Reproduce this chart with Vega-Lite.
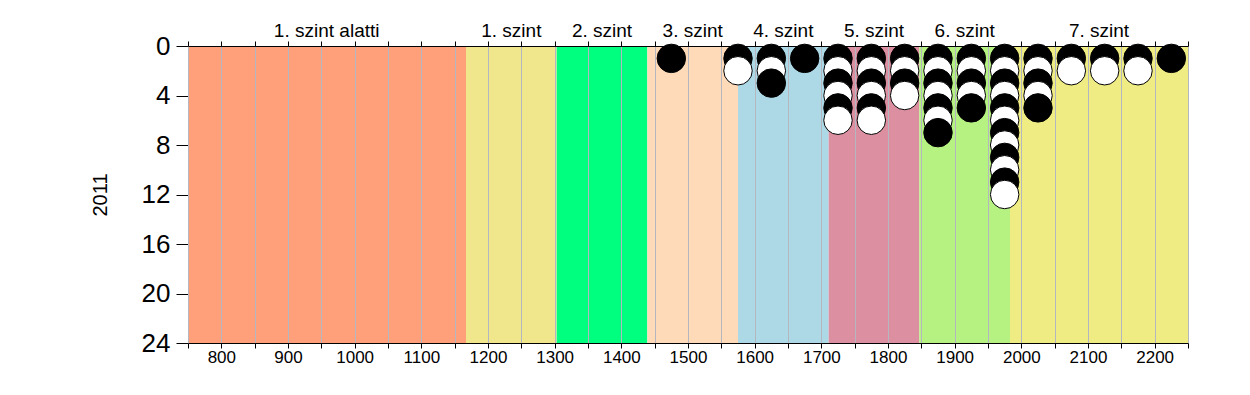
{
  "$schema": "https://vega.github.io/schema/vega-lite/v6.json",
  "width": 1000,
  "height": 297,
  "autosize": "none",
  "padding": {"left": 188, "top": 46, "right": 62, "bottom": 52},
  "background": "white",
  "config": {
    "view": {"stroke": null},
    "font": "Liberation Sans",
    "axis": {"labelFont": "Liberation Sans", "titleFont": "Liberation Sans", "labelColor": "black", "titleColor": "black"}
  },
  "datasets": {
    "bands": [
      {"band": "1. szint alatti", "start": 750, "end": 1167, "mid": 958},
      {"band": "1. szint", "start": 1167, "end": 1303, "mid": 1235},
      {"band": "2. szint", "start": 1303, "end": 1439, "mid": 1371},
      {"band": "3. szint", "start": 1439, "end": 1575, "mid": 1507},
      {"band": "4. szint", "start": 1575, "end": 1711, "mid": 1643},
      {"band": "5. szint", "start": 1711, "end": 1847, "mid": 1779},
      {"band": "6. szint", "start": 1847, "end": 1983, "mid": 1915},
      {"band": "7. szint", "start": 1983, "end": 2250, "mid": 2116.5}
    ],
    "points": [
      {"x": 1475, "n": 1},
      {"x": 1575, "n": 1}, {"x": 1575, "n": 2},
      {"x": 1625, "n": 1}, {"x": 1625, "n": 2}, {"x": 1625, "n": 3},
      {"x": 1675, "n": 1},
      {"x": 1725, "n": 1}, {"x": 1725, "n": 2}, {"x": 1725, "n": 3}, {"x": 1725, "n": 4}, {"x": 1725, "n": 5}, {"x": 1725, "n": 6},
      {"x": 1775, "n": 1}, {"x": 1775, "n": 2}, {"x": 1775, "n": 3}, {"x": 1775, "n": 4}, {"x": 1775, "n": 5}, {"x": 1775, "n": 6},
      {"x": 1825, "n": 1}, {"x": 1825, "n": 2}, {"x": 1825, "n": 3}, {"x": 1825, "n": 4},
      {"x": 1875, "n": 1}, {"x": 1875, "n": 2}, {"x": 1875, "n": 3}, {"x": 1875, "n": 4}, {"x": 1875, "n": 5}, {"x": 1875, "n": 6}, {"x": 1875, "n": 7},
      {"x": 1925, "n": 1}, {"x": 1925, "n": 2}, {"x": 1925, "n": 3}, {"x": 1925, "n": 4}, {"x": 1925, "n": 5},
      {"x": 1975, "n": 1}, {"x": 1975, "n": 2}, {"x": 1975, "n": 3}, {"x": 1975, "n": 4}, {"x": 1975, "n": 5}, {"x": 1975, "n": 6},
      {"x": 1975, "n": 7}, {"x": 1975, "n": 8}, {"x": 1975, "n": 9}, {"x": 1975, "n": 10}, {"x": 1975, "n": 11}, {"x": 1975, "n": 12},
      {"x": 2025, "n": 1}, {"x": 2025, "n": 2}, {"x": 2025, "n": 3}, {"x": 2025, "n": 4}, {"x": 2025, "n": 5},
      {"x": 2075, "n": 1}, {"x": 2075, "n": 2},
      {"x": 2125, "n": 1}, {"x": 2125, "n": 2},
      {"x": 2175, "n": 1}, {"x": 2175, "n": 2},
      {"x": 2225, "n": 1}
    ]
  },
  "resolve": {"axis": {"x": "independent"}},
  "layer": [
    {
      "data": {"name": "bands"},
      "mark": {"type": "rect"},
      "encoding": {
        "x": {
          "field": "start", "type": "quantitative",
          "scale": {"domain": [750, 2250], "nice": false, "zero": false},
          "axis": {
            "orient": "bottom", "title": null,
            "values": [750, 800, 850, 900, 950, 1000, 1050, 1100, 1150, 1200, 1250, 1300, 1350, 1400, 1450, 1500, 1550, 1600, 1650, 1700, 1750, 1800, 1850, 1900, 1950, 2000, 2050, 2100, 2150, 2200, 2250],
            "labelExpr": "datum.value % 100 == 0 ? datum.value : ''",
            "labelFontSize": 17, "labelPadding": 1, "labelFlush": false, "labelOverlap": false,
            "tickSize": 5, "tickColor": "black", "domainColor": "black",
            "grid": true, "gridColor": "#b4b6c0", "gridWidth": 1, "zindex": 1
          }
        },
        "x2": {"field": "end"},
        "color": {
          "field": "band", "type": "nominal", "legend": null,
          "scale": {
            "domain": ["1. szint alatti", "1. szint", "2. szint", "3. szint", "4. szint", "5. szint", "6. szint", "7. szint"],
            "range": ["#FFA07A", "#F0E68C", "#00FF7F", "#FFDAB9", "#ADD8E6", "#DC8FA0", "#B5F282", "#F0EC84"]
          }
        }
      }
    },
    {
      "data": {"name": "bands"},
      "mark": {"type": "text", "fontSize": 19, "baseline": "alphabetic", "align": "center", "color": "black", "font": "Liberation Sans"},
      "encoding": {
        "x": {
          "field": "mid", "type": "quantitative",
          "axis": {
            "orient": "top", "title": null,
            "values": [750, 800, 850, 900, 950, 1000, 1050, 1100, 1150, 1200, 1250, 1300, 1350, 1400, 1450, 1500, 1550, 1600, 1650, 1700, 1750, 1800, 1850, 1900, 1950, 2000, 2050, 2100, 2150, 2200, 2250],
            "labels": false, "tickSize": 5, "tickColor": "black", "domainColor": "black", "grid": false, "zindex": 1
          }
        },
        "y": {"datum": -0.75, "type": "quantitative"},
        "text": {"field": "band"}
      }
    },
    {
      "data": {"name": "points"},
      "mark": {"type": "point", "shape": "circle", "filled": true, "size": 810, "stroke": "black", "strokeWidth": 1, "opacity": 1},
      "encoding": {
        "x": {"field": "x", "type": "quantitative", "axis": null},
        "y": {
          "field": "n", "type": "quantitative",
          "scale": {"domain": [0, 24], "reverse": true, "nice": false, "zero": true},
          "axis": {
            "values": [0, 4, 8, 12, 16, 20, 24],
            "title": "2011", "titleFontSize": 20, "titleFontWeight": "normal", "titlePadding": 31,
            "labelFontSize": 26, "labelPadding": 6, "tickSize": 12, "tickColor": "black",
            "domain": false, "grid": false
          }
        },
        "fill": {"condition": {"test": "datum.n % 2 == 1", "value": "black"}, "value": "white"}
      }
    }
  ]
}
